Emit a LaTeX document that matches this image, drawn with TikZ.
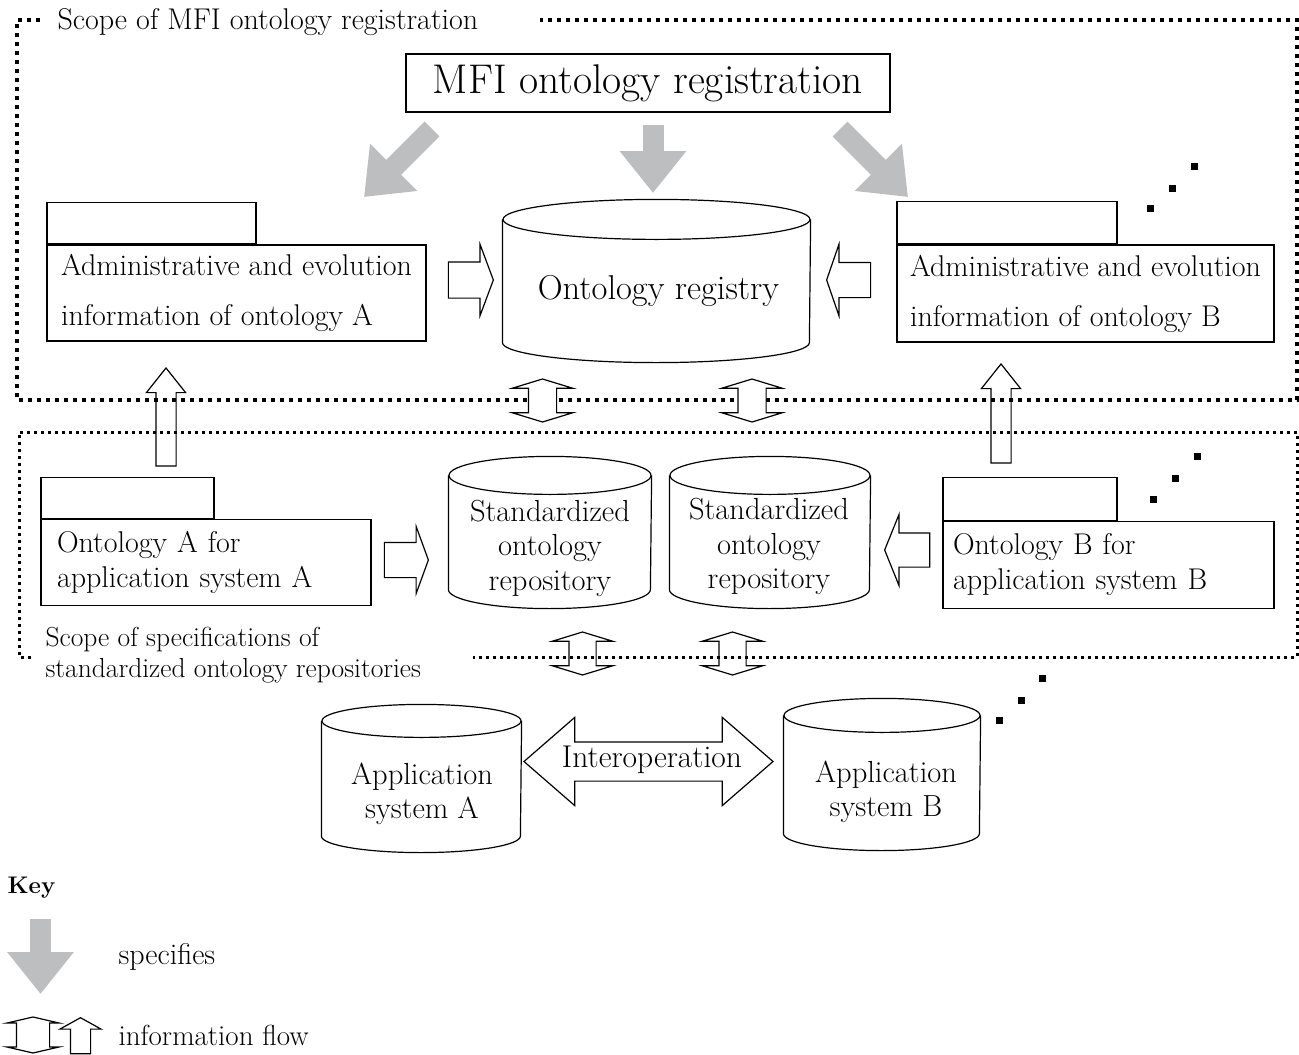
\documentclass[tikz,border=0pt]{standalone}
\usepackage{fontspec}
\usepackage{tikz}
\usetikzlibrary{arrows.meta,shapes.arrows,calc}
\definecolor{specgray}{RGB}{189,190,192}
\newcommand{\fs}[2]{\fontsize{#1}{#2}\selectfont}

\begin{document}
\begin{tikzpicture}[x=1pt,y=-1pt,line width=1.2pt,
    infobox/.style={draw, rectangle, inner sep=0pt, align=left, font=\fs{30}{35}},
    tabbox/.style={draw, rectangle, inner sep=0pt},
    drum/.style={rectangle, inner sep=0pt},
    drumtext/.style={inner sep=0pt, align=center, font=\fs{30.5}{34.5}},
    spec/.style={draw=specgray, line width=21pt, -{Triangle[length=42pt,width=64pt]}},
    flowone/.style={draw, single arrow, inner sep=0pt, minimum width=0pt},
    flowtwo/.style={draw, double arrow, inner sep=0pt, minimum width=0pt},
    scopeA/.style={line width=4pt, dash pattern=on 4pt off 5pt},
    scopeB/.style={line width=3pt, dash pattern=on 3pt off 4pt},
  ]
  \useasboundingbox (0,0) rectangle (1299,1055);

  % scopes
  \draw[scopeA] (40,20) -- (17,20) -- (17,400) -- (1297,400) -- (1297,20) -- (540,20);
  \node[anchor=west, font=\fs{30}{35}, inner sep=0pt] (scopeMFI) at (57,22) {Scope of MFI ontology registration};
  \draw[scopeB] (31,657) -- (19,657) -- (19,432) -- (1297,432) -- (1297,657) -- (473,657);
  \node[anchor=west, align=left, font=\fs{27.5}{31}, inner sep=0pt] (scopeSOR) at (45,655)
    {Scope of specifications of\\standardized ontology repositories};

  % registration part
  \node[draw, minimum width=484pt, minimum height=58pt, inner sep=0pt, font=\fs{41.5}{48}] (mfi) at (648,83) {MFI ontology registration};

  \node[infobox, minimum width=379pt, minimum height=96pt, font=\fs{30}{50}] (admA) at (236.5,293)
    {Administrative and evolution\\information of ontology A};
  \node[tabbox, minimum width=209pt, minimum height=41pt, anchor=south west] (tabA) at (admA.north west) {};
  \node[infobox, minimum width=377pt, minimum height=97pt, font=\fs{30}{50}] (admB) at (1085.5,293.5)
    {Administrative and evolution\\information of ontology B};
  \node[tabbox, minimum width=220pt, minimum height=42pt, anchor=south west] (tabB) at (admB.north west) {};

  \node[drum, minimum width=307pt, minimum height=162pt] (reg) at (656.5,281) {};
  \node[drumtext, font=\fs{34.5}{40}] (regText) at (658.5,291) {Ontology registry};

  \coordinate (spLs) at (432,129);
  \coordinate (spLe) at (364,197);
  \coordinate (spCs) at (653,125);
  \coordinate (spCe) at (653,193);
  \coordinate (spRs) at (840,129);
  \coordinate (spRe) at (908,197);
  \draw[spec] (spLs) -- (spLe);
  \draw[spec] (spCs) -- (spCe);
  \draw[spec] (spRs) -- (spRe);

  \node[flowone, anchor=tip, minimum height=45pt, inner ysep=17.5pt, single arrow head extend=17.5pt, single arrow tip angle=139] (flAreg) at (494,280) {};
  \node[flowone, anchor=tip, rotate=180, minimum height=44pt, inner ysep=17pt, single arrow head extend=18pt, single arrow tip angle=142] (flBreg) at (826,280) {};

  \node[flowtwo, fill=white, rotate=90, minimum height=43pt, inner ysep=13.5pt, double arrow head extend=16pt, double arrow tip angle=146] (flReg1) at (542.5,400.5) {};
  \node[flowtwo, fill=white, rotate=90, minimum height=43pt, inner ysep=13.5pt, double arrow head extend=16pt, double arrow tip angle=146] (flReg2) at (752,400.5) {};

  % repositories part
  \node[infobox, text width=298pt, minimum height=86pt, inner xsep=16pt] (ontA) at (206,562.5)
    {Ontology A for\\application system A};
  \node[tabbox, minimum width=173pt, minimum height=41pt, anchor=south west] (tabOA) at (ontA.north west) {};
  \node[infobox, text width=311pt, minimum height=87pt, inner xsep=10pt] (ontB) at (1108.5,565)
    {Ontology B for\\application system B};
  \node[tabbox, minimum width=174pt, minimum height=43pt, anchor=south west] (tabOB) at (ontB.north west) {};

  \node[flowone, anchor=tip, rotate=90, minimum height=98pt, inner ysep=9.5pt, single arrow head extend=9.5pt, single arrow tip angle=77] (flAup) at (166,367) {};
  \node[flowone, anchor=tip, rotate=90, minimum height=99pt, inner ysep=9.5pt, single arrow head extend=9.5pt, single arrow tip angle=77] (flBup) at (1001,363) {};

  \node[drum, minimum width=202pt, minimum height=151pt] (repoA) at (550,532.5) {};
  \node[drumtext] (repoAText) at (550,548) {Standardized\\ontology\\repository};
  \node[drum, minimum width=200pt, minimum height=151pt] (repoB) at (770,532.5) {};
  \node[drumtext] (repoBText) at (769,546.5) {Standardized\\ontology\\repository};

  \node[flowone, anchor=tip, minimum height=44pt, inner ysep=17pt, single arrow head extend=16pt, single arrow tip angle=140] (flArepo) at (429,560) {};
  \node[flowone, anchor=tip, rotate=180, minimum height=45pt, inner ysep=16.5pt, single arrow head extend=18.5pt, single arrow tip angle=136] (flBrepo) at (884,550) {};

  \node[flowtwo, rotate=90, minimum height=43pt, inner ysep=13pt, double arrow head extend=16.5pt, double arrow tip angle=146] (flRepo1) at (582.5,653.5) {};
  \node[flowtwo, rotate=90, minimum height=43pt, inner ysep=13pt, double arrow head extend=16.5pt, double arrow tip angle=146] (flRepo2) at (732.5,653.5) {};

  % application systems
  \node[drum, minimum width=199pt, minimum height=147pt] (appA) at (421.5,778.5) {};
  \node[drumtext] (appAText) at (422,794) {Application\\system A};
  \node[drum, minimum width=196pt, minimum height=151pt] (appB) at (882,774.5) {};
  \node[drumtext] (appBText) at (886,792) {Application\\system B};

  % cylinder outlines
  \foreach \n/\w/\r in {reg/153.5/20, repoA/101/19, repoB/100/19, appA/99.5/16.5, appB/98/17} {
    \draw ($(\n.north)+(0,\r)$) ellipse [x radius=\w, y radius=\r];
    \draw ($(\n.north west)+(0,\r)$) -- ($(\n.south west)-(0,\r)$)
      arc [start angle=180, end angle=0, x radius=\w, y radius=\r] -- ($(\n.north east)+(0,\r)$);
  }

  \node[flowtwo, minimum height=249pt, inner ysep=19pt, double arrow head extend=24.5pt, double arrow tip angle=82] (interop) at (648.5,761.5) {};
  \node[inner sep=0pt, font=\fs{31.5}{36}] (interopText) at (652,760) {Interoperation};

  % more ontologies
  \foreach \x/\y in {1150/208,1172/188,1194/166,1153/499,1175/478,1197/456,999/720,1021/700,1042/678}
    \fill (\x-3.5,\y-3.5) rectangle ++(7,7);

  % key
  \node[anchor=west, inner sep=0pt, font=\fs{24}{28}\bfseries] (key) at (7,888) {Key};
  \coordinate (keyS) at (40.5,919);
  \coordinate (keyE) at (40.5,994);
  \draw[spec] (keyS) -- (keyE);
  \node[anchor=west, inner sep=0pt, font=\fs{30}{35}] (keySpec) at (118,957) {specifies};
  \node[flowtwo, rotate=90, minimum height=36pt, inner ysep=16pt, double arrow head extend=9.5pt, double arrow tip angle=154] (keyTwo) at (33,1035) {};
  \node[flowone, anchor=tip, rotate=90, minimum height=36pt, inner ysep=9.5pt, single arrow head extend=10.5pt, single arrow tip angle=122] (keyOne) at (80.5,1017) {};
  \node[anchor=west, inner sep=0pt, font=\fs{29}{35}] (keyFlow) at (118,1035) {information flow};
\end{tikzpicture}
\end{document}
